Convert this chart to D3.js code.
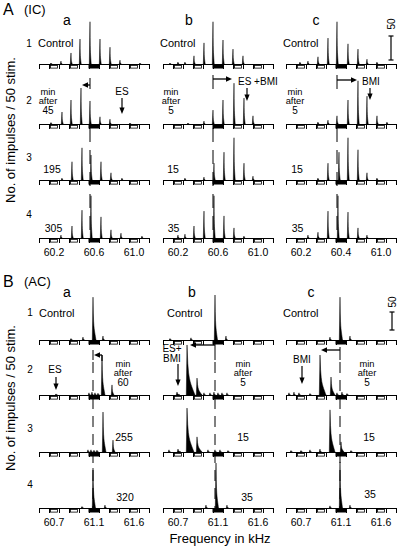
<!DOCTYPE html>
<html><head><meta charset="utf-8">
<script src="https://cdn.jsdelivr.net/npm/d3@7"></script>
<style>
body{margin:0;background:#fff}
svg{display:block}
text{font-family:"Liberation Sans",Arial,Helvetica,sans-serif;fill:#000}
</style>
</head><body><svg id="c" width="400" height="548"></svg>
<script>
// ---------------- DATA ----------------
const columns = ["a", "b", "c"];
const rowNumbers = ["1", "2", "3", "4"];
const timeLabelsA = [["Control", "45", "195", "305"], ["Control", "5", "15", "35"], ["Control", "5", "15", "35"]];
const timeLabelsB = [["Control", "60", "255", "320"], ["Control", "5", "15", "35"], ["Control", "5", "15", "35"]];
const freqDomainA = [60.05, 61.15];
const freqDomainB = [60.55, 61.65];
const tickValuesA = [60.2, 60.6, 61.0];
const tickLabelsA = [["60.2", "60.6", "61.0"], ["60.2", "60.6", "61.0"], ["60.2", "60.4", "61.0"]];
const tickValuesB = [60.7, 61.1, 61.5];
const tickLabelsB = [["60.7", "61.1", "61.6"], ["60.7", "61.1", "61.6"], ["60.7", "61.1", "61.6"]];
const bfA = [60.56, 60.55, 60.56];
const bfB = [61.09, 61.07, 61.09];
const shiftedBfA = [60.48, 60.74, 60.76];
const shiftedBfB = [61.18, 60.82, 60.90];
const stimFreqA = [60.88, 60.89, 60.89];
const stimFreqB = [60.72, 60.70, 60.71];
const stimLabelsA = [["ES"], ["ES +BMI"], ["BMI"]];
const stimLabelsB = [["ES"], ["ES+", "BMI"], ["BMI"]];
const scaleBarValue = 50;

// peaks: [frequency kHz, impulses / 50 stim, (tail width kHz)]
const peaksAa = [
  [[60.17,2],[60.27,6],[60.37,23],[60.46,52],[60.56,88],[60.66,52],[60.76,35],[60.86,8],[61.06,2]],
  [[60.17,3],[60.28,25],[60.37,50],[60.47,75],[60.56,48],[60.66,15],[60.76,10],[60.96,2]],
  [[60.28,4],[60.38,38],[60.48,67],[60.57,52],[60.67,38],[60.77,15],[60.88,4]],
  [[60.27,6],[60.38,25],[60.48,58],[60.57,88],[60.67,44],[60.77,17],[60.87,10],[61.08,4]]
];
const peaksAb = [
  [[60.12,2],[60.20,4],[60.27,4],[60.36,17],[60.46,44],[60.55,88],[60.65,50],[60.75,31],[60.85,17]],
  [[60.30,2],[60.46,6],[60.55,29],[60.65,50],[60.76,85],[60.86,54],[60.95,17]],
  [[60.27,4],[60.46,6],[60.56,35],[60.66,58],[60.76,88],[60.86,35],[60.95,8]],
  [[60.20,6],[60.27,8],[60.36,25],[60.46,56],[60.56,88],[60.66,46],[60.76,21],[60.86,4]]
];
const peaksAc = [
  [[60.19,4],[60.27,6],[60.37,15],[60.47,54],[60.56,88],[60.67,42],[60.77,31],[60.86,10],[60.96,4]],
  [[60.37,4],[60.47,8],[60.56,17],[60.67,50],[60.77,90],[60.86,58],[60.96,17],[61.06,4]],
  [[60.37,4],[60.47,35],[60.58,58],[60.67,88],[60.77,63],[60.86,15],[60.96,4]],
  [[60.27,6],[60.37,12],[60.47,56],[60.57,88],[60.67,54],[60.77,21],[60.86,6]]
];
const peaksBa = [
  [[60.87,4],[60.99,8],[61.09,119,0.03],[61.19,11]],
  [[60.72,3],[61.05,6],[61.08,8],[61.11,6],[61.14,5],[61.18,111,0.03],[61.28,28,0.02]],
  [[61.04,6],[61.07,6],[61.10,5],[61.13,5],[61.19,111,0.03],[61.29,33,0.02]],
  [[60.98,4],[61.09,111,0.025],[61.21,8]]
];
const peaksBb = [
  [[60.62,4],[60.83,6],[61.07,125,0.025],[61.18,11]],
  [[60.69,8,0.03],[60.79,139,0.08],[60.89,47,0.05],[60.96,6],[61.02,6],[61.06,8],[61.10,6],[61.14,6],[61.19,6]],
  [[60.61,6],[60.70,8,0.03],[60.79,122,0.07],[60.89,42,0.05],[61.00,6],[61.07,6],[61.12,6],[61.20,4]],
  [[60.98,8],[61.08,125,0.025],[61.19,8]]
];
const peaksBc = [
  [[60.99,8],[61.09,119,0.025],[61.19,11]],
  [[60.58,6],[60.63,8],[60.68,6],[60.79,4],[60.89,111,0.06],[61.00,50,0.04],[61.06,6],[61.11,8],[61.16,4]],
  [[60.60,4],[60.70,4],[60.79,6],[60.89,8],[60.99,117,0.05],[61.10,28,0.03],[61.20,4]],
  [[60.99,6],[61.09,128,0.025],[61.19,8]]
];

// ---------------- LAYOUT ----------------
const svg = d3.select("#c");
svg.append("rect").attr("width", 400).attr("height", 548).attr("fill", "#fff");

const colLeft = [39, 163, 286];
const colW = 110;
const segCount = 11;
const openSegs = [1, 3, 7, 9];
const bfSeg = 5;

const panels = [
  {
    name: "A", sub: "(IC)", titleY: 15, letterY: 25, letterX: [67, 189, 316],
    domain: freqDomainA, bases: [64, 124, 180, 238], px50: 24, defTail: 0.012,
    peaks: [peaksAa, peaksAb, peaksAc], tickVals: tickValuesA, tickLabels: tickLabelsA,
    labels: timeLabelsA, rowNumY: [47, 104, 161, 218], rowNumX: 29,
    controlDx: [-1, -3, -3], controlY: 47,
    minDx: [9, 8, 9], minY: [94.5, 104, 114],
    numDx: [[13, 10, 11], [14.5, 10.5, 11.5]], numY: [[173, 173, 173], [232, 232, 232]],
    bf: bfA, shifted: shiftedBfA, arrowY: [85, 79, 80], solidTop: [78, 75, 75], solidBot: 89,
    dashTop: 128, dashArr: "14,8",
    stim: stimFreqA, stimLabels: stimLabelsA,
    stimText: [{x: 122, a: "middle", y: [95]}, {x: 238, a: "start", y: [85]}, {x: 362, a: "start", y: [85]}],
    stimArrow: [[98, 114], [88, 101], [88, 100]],
    scaleX: 391, scaleBottom: 60, scaleTextY: 24, yTitle: 130, tickLabelDy: 18
  },
  {
    name: "B", sub: "(AC)", titleY: 287, letterY: 297, letterX: [67, 192, 311],
    domain: freqDomainB, bases: [340, 395, 452, 508], px50: 18, defTail: 0.015,
    peaks: [peaksBa, peaksBb, peaksBc], tickVals: tickValuesB, tickLabels: tickLabelsB,
    labels: timeLabelsB, rowNumY: [316, 373, 432, 488], rowNumX: 30,
    controlDx: [0, 4, -3], controlY: 317,
    minDx: [84, 80, 81], minY: [366.5, 376, 386],
    numDx: [[85, 80, 83], [86, 84, 84]], numY: [[441, 441, 441], [501, 501, 498]],
    bf: bfB, shifted: shiftedBfB, arrowY: [355, 345, 350], solidTop: [350, 343, 347], solidBot: 360,
    dashTop: 362, dashArr: "11,7",
    stim: stimFreqB, stimLabels: stimLabelsB,
    stimText: [{x: 55, a: "middle", y: [373]}, {x: 172, a: "middle", y: [352, 362]}, {x: 302, a: "middle", y: [363]}],
    stimArrow: [[377, 390], [364, 386], [366, 384]],
    scaleX: 392, scaleBottom: 330, scaleTextY: 302, yTitle: 398, tickLabelDy: 18
  }
];

function peakPoints(p, defTail) {
  const f = p[0], c = p[1], w = p[2] || defTail;
  const pts = [[f - 0.007, 0], [f, c]];
  for (let i = 1; i < 10; i++) {
    const t = i / 10;
    pts.push([f + w * t, c * (0.6 * Math.exp(-8 * t) + 0.4 * (1 - t))]);
  }
  pts.push([f + w, 0]);
  return pts;
}

function txt(x, y, s, size, anchor) {
  return svg.append("text").attr("x", x).attr("y", y).attr("font-size", size)
    .attr("text-anchor", anchor || "start").text(s);
}

function hArrow(x1, x2, y) {
  const dir = x2 > x1 ? 1 : -1;
  svg.append("line").attr("x1", x1).attr("x2", x2 - dir * 5).attr("y1", y).attr("y2", y)
    .attr("stroke", "#000").attr("stroke-width", 1.3);
  svg.append("path").attr("d", `M${x2},${y} L${x2 - dir * 6},${y - 2.8} L${x2 - dir * 6},${y + 2.8} Z`).attr("fill", "#000");
}
function vArrow(x, y1, y2) {
  svg.append("line").attr("x1", x).attr("x2", x).attr("y1", y1).attr("y2", y2 - 5)
    .attr("stroke", "#000").attr("stroke-width", 1.2);
  svg.append("path").attr("d", `M${x},${y2} L${x - 2.6},${y2 - 6.5} L${x + 2.6},${y2 - 6.5} Z`).attr("fill", "#000");
}

panels.forEach(P => {
  txt(3, P.titleY, P.name, 16);
  txt(24, P.titleY - 1, P.sub, 13);
  svg.append("text").attr("transform", `translate(15,${P.yTitle}) rotate(-90)`)
    .attr("font-size", 13).attr("text-anchor", "middle").text("No. of impulses / 50 stim.");
  rowNumbers.forEach((r, i) => txt(P.rowNumX, P.rowNumY[i], r, 10, "middle"));

  columns.forEach((col, ci) => {
    const left = colLeft[ci];
    const x = d3.scaleLinear().domain(P.domain).range([left, left + colW]);
    txt(P.letterX[ci], P.letterY, col, 14, "middle");
    const step = (P.domain[1] - P.domain[0]) / segCount;

    P.bases.forEach((base, ri) => {
      const y = d3.scaleLinear().domain([0, scaleBarValue]).range([base, base - P.px50]);
      const g = svg.append("g");
      const area = d3.area().x(d => x(d[0])).y0(y(0)).y1(d => y(d[1]));
      P.peaks[ci][ri].forEach(p => {
        g.append("path").attr("d", area(peakPoints(p, P.defTail)))
          .attr("fill", "#000").attr("stroke", "#000").attr("stroke-width", 0.5);
      });
      g.append("line").attr("x1", x(P.domain[0])).attr("x2", x(P.domain[1]))
        .attr("y1", base + 0.5).attr("y2", base + 0.5).attr("stroke", "#000").attr("stroke-width", 1);
      for (let k = 0; k <= segCount; k++) {
        const xx = Math.round(x(P.domain[0] + k * step)) + 0.5;
        g.append("line").attr("x1", xx).attr("x2", xx).attr("y1", base).attr("y2", base + 5)
          .attr("stroke", "#000").attr("stroke-width", 1);
      }
      openSegs.forEach(k => {
        const xa = x(P.domain[0] + k * step), xb = x(P.domain[0] + (k + 1) * step);
        g.append("rect").attr("x", xa + 1.5).attr("y", base + 1.5).attr("width", xb - xa - 3).attr("height", 2.6)
          .attr("fill", "#fff").attr("stroke", "#000").attr("stroke-width", 0.8);
      });
      {
        const xa = x(P.domain[0] + bfSeg * step), xb = x(P.domain[0] + (bfSeg + 1) * step);
        g.append("rect").attr("x", xa - 0.5).attr("y", base + 0.5).attr("width", xb - xa + 1.5).attr("height", 4)
          .attr("fill", "#000");
      }
      const lab = P.labels[ci][ri];
      if (ri === 0) txt(left + P.controlDx[ci], P.controlY, lab, 11);
      else if (ri === 1) {
        const cx = left + P.minDx[ci];
        txt(cx, P.minY[0], "min", 9.3, "middle");
        txt(cx, P.minY[1], "after", 9.3, "middle");
        txt(cx, P.minY[2], lab, 10, "middle");
      } else {
        txt(left + P.numDx[ri - 2][ci], P.numY[ri - 2][ci], lab, 10.5, "middle");
      }
      if (ri === 3) {
        P.tickVals.forEach((tv, ti) => txt(x(tv), base + P.tickLabelDy, P.tickLabels[ci][ti], 10.5, "middle"));
      }
    });

    const xb = x(P.bf[ci]);
    svg.append("line").attr("x1", xb).attr("x2", xb).attr("y1", P.solidTop[ci]).attr("y2", P.solidBot)
      .attr("stroke", "#000").attr("stroke-width", 1);
    svg.append("line").attr("x1", xb).attr("x2", xb).attr("y1", P.dashTop).attr("y2", P.bases[3])
      .attr("stroke", "#000").attr("stroke-width", 1).attr("stroke-dasharray", P.dashArr);
    if (P.name === "A") hArrow(xb, x(P.shifted[ci]), P.arrowY[ci]);
    else {
      if (ci === 0) {
        const xs = x(P.shifted[ci]);
        svg.append("line").attr("x1", xs).attr("x2", xs).attr("y1", P.arrowY[ci]).attr("y2", P.arrowY[ci] + 6)
          .attr("stroke", "#000").attr("stroke-width", 1.2);
        hArrow(xs, xb + 1, P.arrowY[ci]);
      } else hArrow(xb, x(P.shifted[ci]), P.arrowY[ci]);
    }
    const st = P.stimText[ci];
    P.stimLabels[ci].forEach((s, si) => txt(st.x, st.y[si], s, 10, st.a));
    vArrow(x(P.stim[ci]), P.stimArrow[ci][0], P.stimArrow[ci][1]);
  });

  const yS = d3.scaleLinear().domain([0, scaleBarValue]).range([P.scaleBottom, P.scaleBottom - P.px50]);
  svg.append("line").attr("x1", P.scaleX).attr("x2", P.scaleX).attr("y1", yS(0)).attr("y2", yS(scaleBarValue))
    .attr("stroke", "#000").attr("stroke-width", 1.2);
  [0, scaleBarValue].forEach(v => svg.append("line").attr("x1", P.scaleX - 2.5).attr("x2", P.scaleX + 2.5)
    .attr("y1", yS(v)).attr("y2", yS(v)).attr("stroke", "#000").attr("stroke-width", 1.2));
  svg.append("text").attr("transform", `translate(${P.scaleX + 4},${P.scaleTextY}) rotate(-90)`)
    .attr("font-size", 10).attr("text-anchor", "middle").text(String(scaleBarValue));
});

txt(220, 543, "Frequency in kHz", 13, "middle");
</script></body></html>
